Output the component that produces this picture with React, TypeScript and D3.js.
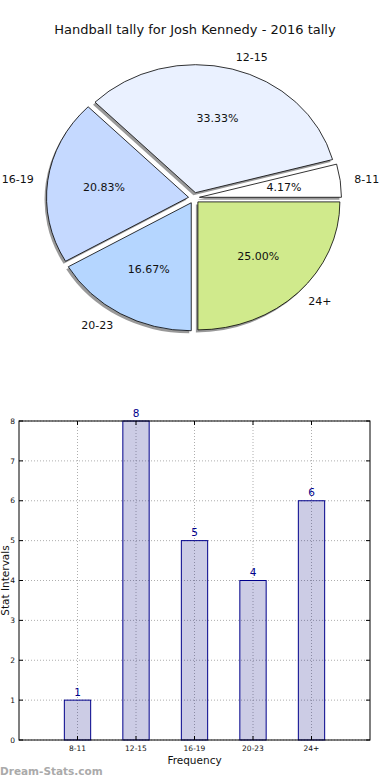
import { useEffect, useRef } from "react"
import * as d3 from "d3"

const categories = ["8-11", "12-15", "16-19", "20-23", "24+"]
const counts = [1, 8, 5, 4, 6]
const sliceColors = ["#ffffff", "#eaf1ff", "#c5d9ff", "#b5d6ff", "#d0ea8c"]
const yTicks = [0, 1, 2, 3, 4, 5, 6, 7, 8]

const title = "Handball tally for Josh Kennedy - 2016 tally"
const font = "DejaVu Sans, sans-serif"

export default function App() {
  const svgRef = useRef<SVGSVGElement>(null)

  useEffect(() => {
    if (!svgRef.current) return
    const svg = d3.select(svgRef.current)
    svg.selectAll("*").remove()

    svg
      .append("text")
      .attr("x", 195)
      .attr("y", 34)
      .attr("text-anchor", "middle")
      .attr("font-family", font)
      .attr("font-size", 13)
      .attr("fill", "#111")
      .text(title)

    // Pie (elliptical, matplotlib style: starts at 3 o'clock, counterclockwise)
    const cx = 194
    const cy = 198
    const ry = 128
    const rx = 142
    const explode = 5.5
    const total = d3.sum(counts)

    const pie = d3
      .pie<number>()
      .sort(null)
      .startAngle(Math.PI / 2)
      .endAngle(Math.PI / 2 - 2 * Math.PI)
      .value((d) => d)
    const arcs = pie(counts)
    const arc = d3.arc<d3.PieArcDatum<number>>().innerRadius(0).outerRadius(ry)

    // screen angle (matplotlib theta) of slice middle
    const mid = (d: d3.PieArcDatum<number>) => Math.PI / 2 - (d.startAngle + d.endAngle) / 2

    const pieG = svg.append("g")

    const sliceG = pieG
      .selectAll("g.slice")
      .data(arcs)
      .enter()
      .append("g")
      .attr("class", "slice")
      .attr("transform", (d) => {
        const t = mid(d)
        const ox = cx + explode * Math.cos(t)
        const oy = cy - explode * Math.sin(t)
        return `translate(${ox},${oy}) scale(${rx / ry},1)`
      })

    // shadows first
    sliceG
      .append("path")
      .attr("d", arc)
      .attr("transform", `translate(${-2 * (ry / rx)},2.5)`)
      .attr("fill", "#777")
      .attr("fill-opacity", 0.75)

    pieG
      .selectAll("g.slice")
      .append("path")
      .attr("d", arc as any)
      .attr("fill", (_d, i) => sliceColors[i])
      .attr("stroke", "#000")
      .attr("stroke-width", 0.8)
      .attr("vector-effect", "non-scaling-stroke")

    const pos = (d: d3.PieArcDatum<number>, f: number) => {
      const t = mid(d)
      const ox = cx + explode * Math.cos(t)
      const oy = cy - explode * Math.sin(t)
      return [ox + f * rx * Math.cos(t), oy - f * ry * Math.sin(t)]
    }

    pieG
      .selectAll("text.pct")
      .data(arcs)
      .enter()
      .append("text")
      .attr("class", "pct")
      .attr("x", (d) => pos(d, 0.6)[0])
      .attr("y", (d) => pos(d, 0.6)[1])
      .attr("dy", "0.35em")
      .attr("text-anchor", "middle")
      .attr("font-family", font)
      .attr("font-size", 11)
      .attr("fill", "#111")
      .text((d) => `${((d.value / total) * 100).toFixed(2)}%`)

    pieG
      .selectAll("text.lbl")
      .data(arcs)
      .enter()
      .append("text")
      .attr("class", "lbl")
      .attr("x", (d) => pos(d, 1.1)[0])
      .attr("y", (d) => pos(d, 1.1)[1])
      .attr("dy", "0.35em")
      .attr("text-anchor", (d) => (Math.cos(mid(d)) > 0 ? "start" : "end"))
      .attr("font-family", font)
      .attr("font-size", 11)
      .attr("fill", "#111")
      .text((_d, i) => categories[i])

    // Bar chart
    const left = 19
    const right = 370
    const top = 421
    const bottom = 740

    const x = d3.scaleLinear().domain([-1, 5]).range([left, right])
    const y = d3.scaleLinear().domain([0, 8]).range([bottom, top])
    const barW = 0.45

    const barG = svg.append("g")

    // grid
    barG
      .selectAll("line.hgrid")
      .data(yTicks)
      .enter()
      .append("line")
      .attr("x1", left)
      .attr("x2", right)
      .attr("y1", (d) => y(d))
      .attr("y2", (d) => y(d))
      .attr("stroke", "#999")
      .attr("stroke-width", 0.8)
      .attr("stroke-dasharray", "1,2")

    barG
      .selectAll("line.vgrid")
      .data(categories)
      .enter()
      .append("line")
      .attr("x1", (_d, i) => x(i))
      .attr("x2", (_d, i) => x(i))
      .attr("y1", top)
      .attr("y2", bottom)
      .attr("stroke", "#999")
      .attr("stroke-width", 0.8)
      .attr("stroke-dasharray", "1,2")

    barG
      .selectAll("rect.bar")
      .data(counts)
      .enter()
      .append("rect")
      .attr("x", (_d, i) => x(i - barW / 2))
      .attr("y", (d) => y(d))
      .attr("width", x(barW) - x(0))
      .attr("height", (d) => bottom - y(d))
      .attr("fill", "#00007f")
      .attr("fill-opacity", 0.2)
      .attr("stroke", "#00008b")
      .attr("stroke-width", 1)

    barG
      .selectAll("text.val")
      .data(counts)
      .enter()
      .append("text")
      .attr("x", (_d, i) => x(i))
      .attr("y", (d) => y(d) - 4.5)
      .attr("text-anchor", "middle")
      .attr("font-family", font)
      .attr("font-size", 10.5)
      .attr("fill", "#00008b")
      .text((d) => d)

    // frame
    barG
      .append("rect")
      .attr("x", left)
      .attr("y", top)
      .attr("width", right - left)
      .attr("height", bottom - top)
      .attr("fill", "none")
      .attr("stroke", "#000")
      .attr("stroke-width", 1)

    // y ticks both sides
    yTicks.forEach((t) => {
      barG
        .append("line")
        .attr("x1", left)
        .attr("x2", left + 4)
        .attr("y1", y(t))
        .attr("y2", y(t))
        .attr("stroke", "#000")
      barG
        .append("line")
        .attr("x1", right - 4)
        .attr("x2", right)
        .attr("y1", y(t))
        .attr("y2", y(t))
        .attr("stroke", "#000")
    })
    barG
      .selectAll("text.ytick")
      .data(yTicks)
      .enter()
      .append("text")
      .attr("x", left - 4)
      .attr("y", (d) => y(d))
      .attr("dy", "0.35em")
      .attr("text-anchor", "end")
      .attr("font-family", font)
      .attr("font-size", 7.5)
      .attr("fill", "#111")
      .text((d) => d)

    categories.forEach((_c, i) => {
      barG
        .append("line")
        .attr("x1", x(i))
        .attr("x2", x(i))
        .attr("y1", bottom)
        .attr("y2", bottom - 4)
        .attr("stroke", "#000")
      barG
        .append("line")
        .attr("x1", x(i))
        .attr("x2", x(i))
        .attr("y1", top)
        .attr("y2", top + 4)
        .attr("stroke", "#000")
    })
    barG
      .selectAll("text.xtick")
      .data(categories)
      .enter()
      .append("text")
      .attr("x", (_d, i) => x(i))
      .attr("y", bottom + 11)
      .attr("text-anchor", "middle")
      .attr("font-family", font)
      .attr("font-size", 7.5)
      .attr("fill", "#111")
      .text((d) => d)

    barG
      .append("text")
      .attr("x", (left + right) / 2)
      .attr("y", bottom + 24)
      .attr("text-anchor", "middle")
      .attr("font-family", font)
      .attr("font-size", 10.5)
      .attr("fill", "#111")
      .text("Frequency")

    barG
      .append("text")
      .attr("transform", `translate(9,${(top + bottom) / 2}) rotate(-90)`)
      .attr("text-anchor", "middle")
      .attr("font-family", font)
      .attr("font-size", 10.5)
      .attr("fill", "#111")
      .text("Stat Intervals")

    svg
      .append("text")
      .attr("x", 0)
      .attr("y", 775)
      .attr("font-family", font)
      .attr("font-size", 10.5)
      .attr("font-weight", "bold")
      .attr("fill", "#aaa")
      .text("Dream-Stats.com")
  }, [])

  return (
    <svg
      ref={svgRef}
      width={390}
      height={780}
      style={{ position: "absolute", left: 0, top: 0, background: "#fff" }}
    />
  )
}
